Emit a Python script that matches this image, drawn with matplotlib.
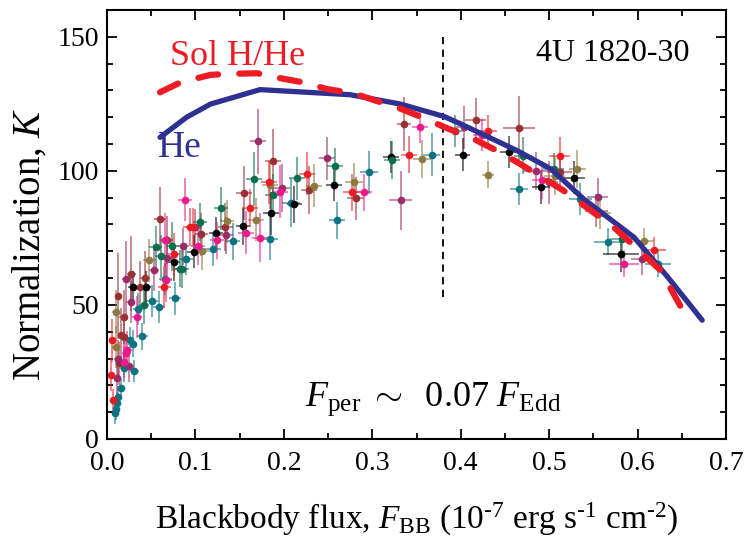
import matplotlib
matplotlib.use("Agg")
import matplotlib.pyplot as plt
import matplotlib.colors as mcolors
from matplotlib.ticker import MultipleLocator, FormatStrFormatter

plt.rcParams['font.family'] = ['Liberation Serif', 'DejaVu Serif']
plt.rcParams['mathtext.fontset'] = 'custom'
plt.rcParams['mathtext.rm'] = 'Liberation Serif'
plt.rcParams['mathtext.it'] = 'Liberation Serif:italic'

# model curves
he_x = [0.060, 0.090, 0.117, 0.173, 0.275, 0.332, 0.381, 0.400, 0.464, 0.502, 0.539, 0.596, 0.634, 0.673]
he_y = [112.5, 120.0, 124.9, 130.3, 128.4, 124.9, 120.3, 117.5, 107.5, 100.7, 89.5, 75.2, 60.4, 44.3]
sol_x = [0.060, 0.083, 0.117, 0.139, 0.170, 0.192, 0.222, 0.249, 0.279, 0.301, 0.332, 0.356,
         0.386, 0.411, 0.441, 0.464, 0.516, 0.573, 0.626, 0.656]
sol_y = [129.3, 133.0, 135.8, 136.2, 136.4, 134.8, 133.0, 130.5, 128.9, 126.5, 123.2, 120.0,
         115.7, 112.5, 107.5, 103.2, 92.7, 79.0, 62.9, 45.0]

# data points, one set per colour
teal_x = [0.009, 0.010, 0.011, 0.012, 0.016, 0.019, 0.031, 0.026, 0.029, 0.040, 0.035, 0.051, 0.059, 0.077,
          0.066, 0.089, 0.120, 0.142, 0.184, 0.208, 0.260, 0.296, 0.367, 0.466, 0.535, 0.566, 0.623]
teal_y = [9.6, 11, 13.3, 15.7, 18.9, 26.3, 25.3, 36.8, 35.6, 38.3, 48.6, 51.5, 49.2, 52.4,
          59.8, 67.2, 70.7, 73.7, 74.7, 88.2, 81.5, 99.5, 106.1, 93.2, 89.6, 73.6, 65.4]
teal_xe = [0.003, 0.003, 0.003, 0.003, 0.004, 0.004, 0.005, 0.005, 0.005, 0.006, 0.006, 0.007, 0.007, 0.007,
           0.007, 0.008, 0.009, 0.008, 0.009, 0.010, 0.009, 0.010, 0.010, 0.010, 0.013, 0.015, 0.015]
teal_ye = [4, 4, 4, 4, 4, 5, 4, 5, 5, 5, 6, 6, 6, 6, 6, 6, 6, 7, 8, 9, 7, 8, 8, 6, 6, 5, 5]

brown_x = [0.013, 0.014, 0.016, 0.019, 0.0275, 0.037, 0.043, 0.060, 0.068, 0.106, 0.134, 0.155, 0.188,
           0.228, 0.281, 0.336, 0.417, 0.466, 0.512, 0.553, 0.019]
brown_y = [53.3, 28.2, 38.7, 45.5, 61.7, 56.5, 60, 82.1, 74.3, 76.3, 79, 91.8, 103.5,
           92.9, 89.8, 117.4, 119, 115.9, 99.5, 85.2, 38.1]
brown_xe = [0.004, 0.004, 0.004, 0.005, 0.005, 0.006, 0.006, 0.007, 0.007, 0.008, 0.008, 0.009, 0.009,
            0.009, 0.010, 0.008, 0.012, 0.018, 0.014, 0.013, 0.005]
brown_ye = [16, 8, 10, 10, 14, 10, 10, 12, 9, 8, 9, 10, 12, 9, 8, 10, 8, 12, 7, 6, 8]

plum_x = [0.011, 0.012, 0.022, 0.025, 0.027, 0.053, 0.068, 0.086, 0.099, 0.135, 0.171, 0.198, 0.249,
          0.332, 0.404, 0.485, 0.500, 0.555, 0.605]
plum_y = [22.6, 30, 59.8, 27.2, 51.1, 63.2, 67.6, 71.8, 78.9, 75.9, 111, 93.7, 104.7,
          89, 116.2, 100, 95.8, 90.2, 67.3]
plum_xe = [0.003, 0.004, 0.005, 0.005, 0.005, 0.006, 0.007, 0.007, 0.008, 0.008, 0.009, 0.009, 0.009,
           0.013, 0.009, 0.015, 0.010, 0.012, 0.012]
plum_ye = [6, 7, 14, 6, 8, 8, 8, 7, 7, 7, 12, 9, 8, 11, 8, 7, 8, 7, 6]

magenta_x = [0.019, 0.021, 0.023, 0.034, 0.067, 0.066, 0.088, 0.103, 0.124, 0.157, 0.173, 0.196, 0.291,
             0.354, 0.424, 0.492, 0.585]
magenta_y = [28.8, 31.9, 33.1, 45.5, 59.2, 74.3, 89.2, 71.9, 74.1, 76.9, 75.1, 92.3, 92,
             116.5, 113.4, 96.6, 65.4]
magenta_xe = [0.004, 0.004, 0.005, 0.006, 0.007, 0.007, 0.008, 0.008, 0.008, 0.009, 0.009, 0.009, 0.009,
              0.009, 0.010, 0.012, 0.017]
magenta_ye = [6, 6, 7, 8, 8, 10, 8, 7, 7, 8, 9, 10, 7, 6, 6, 7, 5]

red_x = [0.004, 0.006, 0.007, 0.065, 0.076, 0.094, 0.097, 0.162, 0.183, 0.226, 0.277, 0.342, 0.431,
         0.512, 0.618]
red_y = [24, 36.8, 14.5, 56.7, 68.9, 79, 79, 86.2, 95.8, 98.9, 92, 106.1, 114.8, 105.7, 70.3]
red_xe = [0.003, 0.003, 0.003, 0.007, 0.007, 0.008, 0.008, 0.009, 0.009, 0.009, 0.010, 0.009, 0.010,
          0.012, 0.014]
red_ye = [6, 8, 4, 8, 8, 7, 7, 7, 8, 8, 7, 7, 6, 7, 5]

olive_x = [0.010, 0.0099, 0.048, 0.108, 0.136, 0.168, 0.184, 0.234, 0.279, 0.356, 0.431, 0.506, 0.532,
           0.558, 0.607]
olive_y = [47.4, 34.3, 66.6, 70, 81.2, 81.8, 94.8, 94.5, 95.8, 104.5, 98.5, 98, 100.7, 84.2, 73.7]
olive_xe = [0.004, 0.004, 0.007, 0.008, 0.008, 0.009, 0.009, 0.009, 0.010, 0.010, 0.007, 0.012, 0.010,
            0.012, 0.012]
olive_ye = [8, 8, 8, 7, 8, 8, 9, 8, 7, 7, 5, 7, 7, 6, 5]

black_x = [0.029, 0.044, 0.076, 0.098, 0.123, 0.154, 0.185, 0.212, 0.257, 0.321, 0.402, 0.454, 0.491,
           0.528, 0.581]
black_y = [56.7, 56.7, 66, 69.9, 76.8, 79.3, 84.1, 87.5, 94.9, 105.3, 106.1, 106.9, 93.8, 97.5, 69.1]
black_xe = [0.005, 0.006, 0.007, 0.008, 0.008, 0.008, 0.009, 0.009, 0.009, 0.009, 0.008, 0.010, 0.010,
            0.013, 0.020]
black_ye = [6, 6, 7, 6, 6, 7, 8, 7, 6, 6, 6, 6, 6, 6, 7]

green_x = [0.042, 0.055, 0.061, 0.074, 0.083, 0.085, 0.105, 0.129, 0.166, 0.188, 0.215, 0.258, 0.322,
           0.394, 0.470, 0.505, 0.582]
green_y = [49.9, 71.6, 68.1, 71.8, 63.5, 63.3, 80.9, 86, 96.9, 90.9, 97.3, 101.7, 104.1, 115, 105.7,
           100.7, 74.5]
green_xe = [0.006, 0.007, 0.007, 0.007, 0.008, 0.008, 0.008, 0.008, 0.009, 0.009, 0.009, 0.009, 0.009,
            0.009, 0.010, 0.012, 0.013]
green_ye = [7, 8, 8, 9, 7, 7, 7, 8, 10, 8, 8, 7, 7, 6, 7, 6, 5]

sets = [
    (teal_x, teal_y, teal_xe, teal_ye, '#0a7482'),
    (brown_x, brown_y, brown_xe, brown_ye, '#9a3034'),
    (plum_x, plum_y, plum_xe, plum_ye, '#9b2c68'),
    (olive_x, olive_y, olive_xe, olive_ye, '#8c7a40'),
    (black_x, black_y, black_xe, black_ye, '#000000'),
    (green_x, green_y, green_xe, green_ye, '#0c6e4e'),
    (magenta_x, magenta_y, magenta_xe, magenta_ye, '#ec1a8c'),
    (red_x, red_y, red_xe, red_ye, '#ed1c24'),
]

fig = plt.figure(figsize=(7.47, 5.46), dpi=100)
ax = fig.add_axes([0.1432, 0.196, 0.8288, 0.7857])

for xs, ys, xe, ye, c in sets:
    ax.errorbar(xs, ys, xerr=xe, yerr=ye, fmt='o', color=c, ms=5.5, mew=0,
                ecolor=mcolors.to_rgba(c, 0.7), elinewidth=1.1, capsize=3.2, capthick=1.1, zorder=2)

ax.plot(he_x, he_y, color='#2e3192', lw=3.8, solid_capstyle='round', zorder=3)
ax.plot(sol_x, sol_y, color='#ed1c24', lw=4.5, linestyle=(0, (3.2, 3.4)),
        dash_capstyle='round', zorder=4)

ax.plot([0.38, 0.38], [53, 150], color='black', lw=1.3, linestyle=(0, (4, 3)), zorder=1)

ax.text(0.071, 139.6, 'Sol H/He', color='#ed1c24', fontsize=26)
ax.text(0.057, 105, 'He', color='#2e3192', fontsize=27)
ax.text(0.485, 141, '4U 1820-30', color='black', fontsize=23)
ax.text(0.224, 12.3, r'$F_{\rm per}\ \sim\ \ 0.07\ F_{\rm Edd}$', fontsize=26)

ax.set_xlim(0, 0.7)
ax.set_ylim(0, 160)
ax.xaxis.set_major_locator(MultipleLocator(0.1))
ax.xaxis.set_minor_locator(MultipleLocator(0.05))
ax.yaxis.set_major_locator(MultipleLocator(50))
ax.yaxis.set_minor_locator(MultipleLocator(10))
ax.xaxis.set_major_formatter(FormatStrFormatter('%.1f'))
ax.tick_params(which='both', direction='in', top=True, right=True, width=1.3, labelsize=20)
ax.tick_params(axis='x', pad=9)
ax.tick_params(axis='y', pad=6)
ax.tick_params(which='major', length=7)
ax.tick_params(which='minor', length=4)
for s in ax.spines.values():
    s.set_linewidth(1.5)

ax.set_xlabel(r'Blackbody flux, $F_{\rm BB}$ (10$^{\text{-7}}$ erg s$^{\text{-1}}$ cm$^{\text{-2}}$)', fontsize=24)
ax.set_ylabel(r'Normalization, $K$', fontsize=28)
ax.xaxis.set_label_coords(0.5, -0.145)
ax.yaxis.set_label_coords(-0.095, 0.455)

fig.savefig('out.png', dpi=100)
